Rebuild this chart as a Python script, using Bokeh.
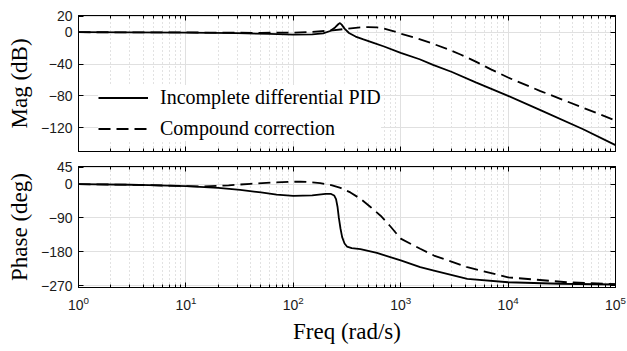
from bokeh.plotting import figure
from bokeh.layouts import column
from bokeh.models import (Range1d, FixedTicker, LogAxis, LinearAxis, LogTickFormatter,
                          Legend, LegendItem, CustomJSTickFormatter)
from bokeh.embed import file_html
from bokeh.resources import INLINE

SANS = "Liberation Sans"
SERIF = "Liberation Serif"

# ---------------- data ----------------
freq_mag_pid = [1, 3, 10, 30, 60, 100, 150, 190, 220, 245, 262, 272, 282, 300, 330, 380,
                450, 550, 700, 1000, 1500, 2000, 3000, 5000, 10000, 20000, 50000, 100000]
mag_pid = [0, -0.2, -0.6, -1.2, -2.2, -3.0, -2.8, -1.5, 1.5, 6, 10, 11.5, 9.5, 4.5, -1, -5.5,
           -9, -13, -18, -26, -34, -41, -50, -63, -80, -98, -122, -142]

freq_mag_cc = [1, 10, 50, 100, 150, 220, 300, 400, 500, 600, 700, 850, 1000, 1400, 1900,
               2700, 3600, 5000, 7000, 10000, 20000, 50000, 100000]
mag_cc = [0, -0.3, -0.8, -0.5, 0.5, 2, 4, 5.8, 6.5, 6, 4.5, 1.5, -2, -7.5, -13.5,
          -21, -28, -37, -47, -57, -74, -95, -111]

freq_ph_pid = [1, 3, 10, 20, 32, 50, 70, 100, 150, 200, 225, 240, 250, 258, 265, 275, 285,
               300, 316, 350, 422, 600, 1000, 1520, 2040, 4170, 10000, 30000, 100000]
ph_pid = [0, -1.5, -5, -10, -15, -22, -28, -31, -30, -26, -26, -30, -40, -60, -88, -118, -141,
          -158, -166, -170, -173, -183, -203, -221, -230, -252, -261, -265, -267]

freq_ph_cc = [1, 3, 10, 15, 25, 40, 65, 117, 178, 230, 275, 340, 422, 520, 650, 800, 1000,
              1520, 2040, 4170, 10000, 35000, 100000]
ph_cc = [0, -1.5, -5, -6, -3, 1, 4.5, 7, 3, -3, -10, -22, -39, -60, -84, -112, -145,
         -172, -190, -221, -248, -261, -266]

x_ticks = [1, 10, 100, 1000, 10000, 100000]
x_minor_ticks = [m * 10 ** d for d in range(5) for m in range(2, 10)]
mag_ticks = [-120, -80, -40, 0, 20]
phase_ticks = [-270, -180, -90, 0, 45]

labels = ["Incomplete differential PID", "Compound correction"]


def hide_labels(ax):
    ax.formatter = CustomJSTickFormatter(code="return ''")
    ax.major_label_text_font_size = "1px"
    ax.major_label_text_alpha = 0
    ax.major_label_standoff = 0


def make_fig(height, yr, yticks, top, bottom):
    p = figure(width=627, height=height, x_axis_type="log",
               x_range=Range1d(1, 1e5), y_range=Range1d(*yr),
               output_backend="svg", toolbar_location=None,
               min_border_left=78, min_border_right=12,
               min_border_top=top, min_border_bottom=bottom)
    p.outline_line_color = "black"
    p.outline_line_width = 1
    bottom_ax = p.below[0]
    left_ax = p.left[0]
    xt = FixedTicker(ticks=x_ticks, minor_ticks=x_minor_ticks)
    yt = FixedTicker(ticks=yticks, minor_ticks=[])
    bottom_ax.ticker = xt
    left_ax.ticker = yt
    p.xgrid.ticker = xt
    p.ygrid.ticker = yt
    p.xgrid.grid_line_color = "#e0e0e0"
    p.xgrid.minor_grid_line_color = "#c4c4c4"
    p.xgrid.minor_grid_line_dash = "1 3"
    p.ygrid.grid_line_color = "#e0e0e0"
    top_ax = LogAxis(ticker=xt)
    right_ax = LinearAxis(ticker=yt)
    p.add_layout(top_ax, "above")
    p.add_layout(right_ax, "right")
    for ax in [bottom_ax, left_ax, top_ax, right_ax]:
        ax.major_tick_in = 5
        ax.major_tick_out = 0
        ax.minor_tick_in = 3
        ax.minor_tick_out = 0
        ax.axis_line_color = "black"
        ax.major_tick_line_color = "black"
        ax.minor_tick_line_color = "black"
        ax.major_label_text_font = SANS
        ax.major_label_text_font_size = "14px"
        ax.major_label_text_color = "#1a1a1a"
        ax.axis_label_text_font = SERIF
        ax.axis_label_text_font_style = "normal"
        ax.axis_label_text_color = "black"
    hide_labels(top_ax)
    hide_labels(right_ax)
    left_ax.major_label_standoff = 6
    left_ax.axis_label_text_font_size = "23px"
    left_ax.axis_label_standoff = 6
    return p, bottom_ax, left_ax


# ---------------- magnitude ----------------
p1, b1, l1 = make_fig(159, (-150, 21), mag_ticks, 15, 8)
hide_labels(b1)
l1.axis_label = "Mag (dB)"
r1 = p1.line(freq_mag_pid, mag_pid, line_color="black", line_width=1.8)
r2 = p1.line(freq_mag_cc, mag_cc, line_color="black", line_width=1.8, line_dash="12 6")
legend = Legend(items=[LegendItem(label=labels[0], renderers=[r1]),
                       LegendItem(label=labels[1], renderers=[r2])],
                location=(20, 10))
legend.background_fill_color = "white"
legend.background_fill_alpha = 1
legend.border_line_color = None
legend.label_text_font = SERIF
legend.label_text_font_size = "20px"
legend.label_text_color = "black"
legend.glyph_width = 50
legend.glyph_height = 25
legend.label_height = 25
legend.spacing = 6
legend.padding = 10
legend.margin = 0
legend.label_standoff = 12
p1.add_layout(legend)

# ---------------- phase ----------------
p2, b2, l2 = make_fig(192, (-275, 47), phase_ticks, 7, 64)
b2.formatter = LogTickFormatter()
b2.major_label_standoff = 8
b2.axis_label = "Freq (rad/s)"
b2.axis_label_text_font_size = "23px"
b2.axis_label_standoff = 6
l2.axis_label = "Phase (deg)"
p2.line(freq_ph_pid, ph_pid, line_color="black", line_width=1.8)
p2.line(freq_ph_cc, ph_cc, line_color="black", line_width=1.8, line_dash="12 6")

layout = column(p1, p2, spacing=0)
open("out.html", "w").write(file_html(layout, INLINE))
